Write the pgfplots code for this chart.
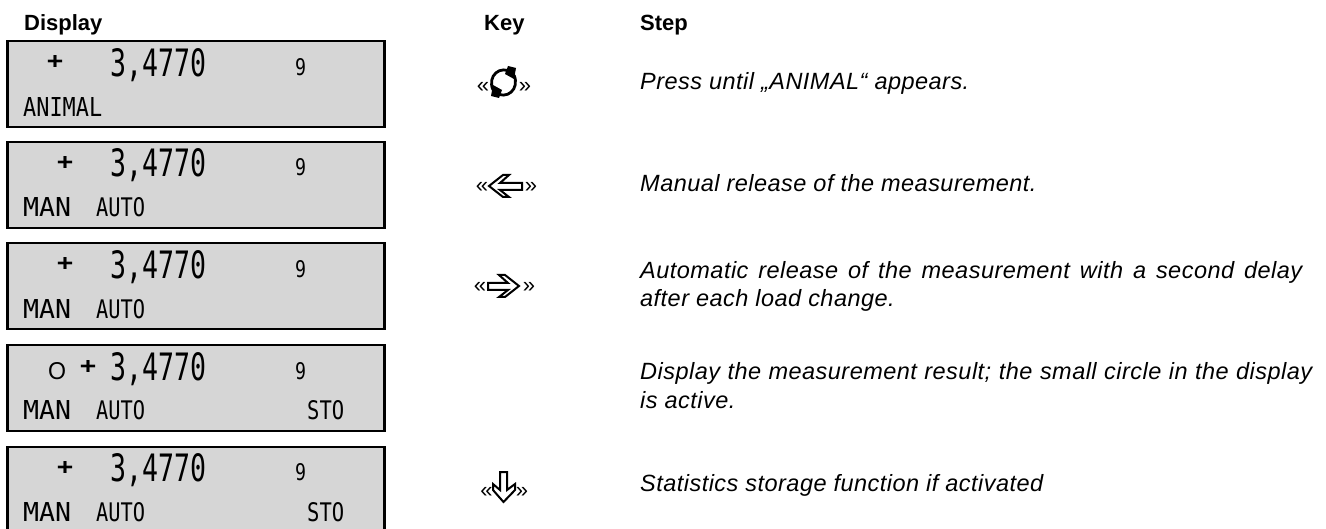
\documentclass[border=0pt]{standalone}
\usepackage{pgfplots}
\pgfplotsset{compat=1.18}
\usepackage{fontspec}
\setmainfont{Liberation Sans}
\newfontfamily\lcd{DejaVu Sans Mono}
\newfontfamily\stepfont[LetterSpace=2]{Liberation Sans}
\newcommand{\lcdtext}[3]{\resizebox{#1pt}{#2pt}{\lcd #3}}
\newcommand{\lcdbox}[1]{\addplot[draw=black,line width=2.6pt,fill=black!16] coordinates {(7.5,#1) (384.5,#1) (384.5,#1+86) (7.5,#1+86)} --cycle;}
\newcommand{\reading}[3]{%
\node[anchor=north west,inner sep=0pt] at (axis cs:110,#1){\lcdtext{96}{28}{3,4770}};
\node[anchor=north west,inner sep=0pt] at (axis cs:295,#1+10){\lcdtext{11}{17}{9}};
\node[anchor=north west,inner sep=0pt] at (axis cs:#2,#3){\resizebox{16pt}{13pt}{\lcd\bfseries +}};
}
\newcommand{\lowrow}[1]{%
\node[anchor=north west,inner sep=0pt] at (axis cs:23,#1){\lcdtext{48}{19}{MAN}};
\node[anchor=north west,inner sep=0pt] at (axis cs:96,#1){\lcdtext{49}{19}{AUTO}};
}
\newcommand{\sto}[1]{\node[anchor=north west,inner sep=0pt] at (axis cs:307,#1){\lcdtext{37}{19}{STO}};}
\newcommand{\guil}[3]{%
\node[anchor=center,inner sep=0pt,font=\fontsize{22}{24}\selectfont] at (axis cs:#1,#3){«};
\node[anchor=center,inner sep=0pt,font=\fontsize{22}{24}\selectfont] at (axis cs:#2,#3){»};
}
\newcommand{\steptext}[2]{\node[anchor=base west,inner sep=0pt,font=\stepfont\itshape\fontsize{23.5}{24}\selectfont] at (axis cs:640,#1){#2};}
\begin{document}
\begin{tikzpicture}[x=1pt,y=1pt]
\path[use as bounding box] (0,0) rectangle (1326,529);
\begin{axis}[name=a,at={(0,0)},anchor=south west,width=1326pt,height=529pt,scale only axis,
  xmin=0,xmax=1326,ymin=0,ymax=529,y dir=reverse,axis lines=none,clip=true]
\lcdbox{41}\lcdbox{142}\lcdbox{243}\lcdbox{345}\lcdbox{447}
% headers
\node[anchor=base west,inner sep=0pt,font=\bfseries\fontsize{22}{24}\selectfont] at (axis cs:24,31){Display};
\node[anchor=base west,inner sep=0pt,font=\bfseries\fontsize{22}{24}\selectfont] at (axis cs:484,31){Key};
\node[anchor=base west,inner sep=0pt,font=\bfseries\fontsize{22}{24}\selectfont] at (axis cs:640,31){Step};
% readings
\reading{48}{47}{55}
\reading{148}{57}{156}
\reading{250}{57}{257}
\reading{352}{80}{360}
\reading{453}{57}{461}
\node[anchor=north west,inner sep=0pt] at (axis cs:48,362){\resizebox{18pt}{17pt}{O}};
% lower row
\node[anchor=north west,inner sep=0pt] at (axis cs:23,97){\lcdtext{79}{19}{ANIMAL}};
\lowrow{197}\lowrow{299}\lowrow{400}\lowrow{502}
\sto{400}\sto{502}
% step text
\steptext{90}{Press until „ANIMAL“ appears.}
\steptext{192}{Manual release of the measurement.}
\steptext{279}{\makebox[662pt][s]{Automatic release of the measurement with a second delay}}
\steptext{307}{after each load change.}
\steptext{380}{\makebox[672pt][s]{Display the measurement result; the small circle in the display}}
\steptext{408}{is active.}
\steptext{491}{Statistics storage function if activated}
% keys
\guil{483}{525}{87}
\guil{482}{531}{187}
\guil{480}{529}{287}
\guil{486.5}{522}{492}
% cycle icon
\draw[line width=2.8pt] (axis cs:493,90) .. controls (axis cs:487,76) and (axis cs:500,64) .. (axis cs:513,73);
\draw[line width=2.8pt] (axis cs:514,75) .. controls (axis cs:520,89) and (axis cs:507,101) .. (axis cs:494,92);
\addplot[fill=black,draw=none] coordinates {(508,66) (516,68) (514,79) (505,74)} --cycle;
\addplot[fill=black,draw=none] coordinates {(499,98) (491,96) (493,85) (502,90)} --cycle;
% left arrow
\addplot[fill=white,draw=black,line width=2pt] coordinates {(489,186) (503,175) (509,175) (500,183) (522,183) (522,190) (500,190) (509,197) (503,197)} --cycle;
% right arrow
\addplot[fill=white,draw=black,line width=2pt] coordinates {(519,286) (505,275) (499,275) (508,283) (488,283) (488,290) (508,290) (499,297) (505,297)} --cycle;
% down arrow
\addplot[fill=white,draw=black,line width=2pt] coordinates {(503.5,502) (493,490) (493,484) (500,490) (500,472) (507,472) (507,490) (515,484) (515,490)} --cycle;
\end{axis}
\end{tikzpicture}
\end{document}
